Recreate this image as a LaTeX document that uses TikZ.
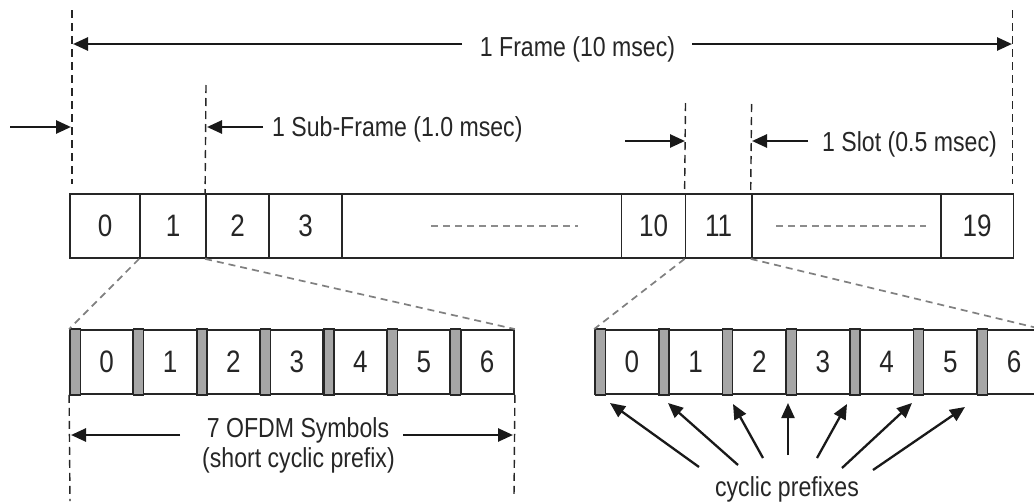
\documentclass[tikz,border=0pt]{standalone}
\usepackage{fontspec}
\setmainfont{Liberation Sans}[FakeStretch=0.84]
\usetikzlibrary{arrows.meta}
\begin{document}
\begin{tikzpicture}[x=1pt,y=-1pt,
  cell/.style={draw=black!85, line width=1.8pt, inner sep=0pt, minimum height=64pt, text=black!85, font=\fontsize{31}{31}\selectfont},
  sym/.style={cell},
  cpbar/.style={draw=black!85, fill=black!35, line width=1.4pt, minimum width=10pt, minimum height=66pt, inner sep=0pt},
  outline/.style={draw=black!85, line width=1.8pt, minimum height=64pt, inner sep=0pt},
  guide/.style={black!85, line width=1.4pt, dash pattern=on 8pt off 5pt},
  link/.style={black!50, line width=1.7pt, dash pattern=on 7pt off 5pt},
  filler/.style={black!45, line width=2.2pt, dash pattern=on 7pt off 5pt},
  arr/.style={black!90, line width=2.6pt, -{Triangle[length=15pt,width=13pt]}},
  cparr/.style={black!90, line width=2.3pt, -{Triangle[length=15pt,width=13pt]}},
  lbl/.style={text=black!85, font=\fontsize{27.5}{30}\selectfont, inner sep=0pt},
]
\clip (0,0) rectangle (1034,501);
\fill[white] (0,0) rectangle (1034,501);

% top row of sub-frames / slots
\foreach \l/\r/\n/\t in {70/140/t0/0, 140/206/t1/1, 206/269/t2/2, 269/342/t3/3, 342/621.5/tA/{}, 621.5/685.5/t10/10, 685.5/751.6/t11/11, 751.6/940.6/tB/{}, 940.6/1013.5/t19/19}
  \node[cell, minimum width={(\r-\l)*1pt}] (\n) at ({(\l+\r)/2},226) {\t};
\draw[filler] ([xshift=90pt]tA.west) -- ([xshift=-44pt]tA.east);
\draw[filler] ([xshift=25.4pt]tB.west) -- ([xshift=-16pt]tB.east);

% lower left slot (short CP)
\node[outline, minimum width=444pt] (ll) at (292,362) {};
\foreach \i in {0,...,6} {
  \node[sym, minimum width=53pt] (ls\i) at ({70+63.43*\i+36.6},362) {\i};
  \node[cpbar] (lc\i) at ({70+63.43*\i+5.2},362) {};
}

% lower right slot
\node[outline, minimum width=446pt] (rr) at (818,362) {};
\foreach \i in {0,...,6} {
  \node[sym, minimum width=53.7pt] (rs\i) at ({595+63.7*\i+36.85},362) {\i};
  \node[cpbar] (rc\i) at ({595+63.7*\i+5.2},362) {};
}

% zoom connectors
\draw[link] (t1.south west) -- (ll.north west);
\draw[link] (t2.south west) -- (ll.north east);
\draw[link] (t11.south west) -- (rr.north west);
\draw[link] (tB.south west) -- (rr.north east);

% guide lines
\coordinate (gFL) at (72,10); \coordinate (gFLb) at (72,184);
\coordinate (gFR) at (1012.5,10); \coordinate (gFRb) at (1012.5,184);
\coordinate (gSF) at (206,85);
\coordinate (gS1) at (685.5,103);
\coordinate (gS2) at (751.6,104);
\coordinate (gOL) at (70,501);
\coordinate (gOR) at (514,497);
\draw[guide] (gFL) -- (gFLb);
\draw[guide] (gFR) -- (gFRb);
\draw[guide] (gSF) -- (t2.north west);
\draw[guide] (gS1) -- (t11.north west);
\draw[guide] (gS2) -- (tB.north west);
\draw[guide] (ll.south west) -- (gOL);
\draw[guide] (ll.south east) -- (gOR);

% labels
\node[lbl, anchor=base] (fr) at (577.5,56) {1 Frame (10 msec)};
\node[lbl, anchor=base west] (sf) at (272,136) {1 Sub-Frame (1.0 msec)};
\node[lbl, anchor=base west] (sl) at (822,151) {1 Slot (0.5 msec)};
\node[lbl, anchor=base] (of1) at (298,437) {7 OFDM Symbols};
\node[lbl, anchor=base] (of2) at (298.5,467) {(short cyclic prefix)};
\node[lbl, anchor=base] (cpl) at (787,496) {cyclic prefixes};

% dimension arrows
\coordinate (aF1) at (462,44); \coordinate (aF1t) at (73,44);
\coordinate (aF2) at (692,44); \coordinate (aF2t) at (1012,44);
\coordinate (aI) at (10,127); \coordinate (aIt) at (71,127);
\coordinate (aS) at (263,127); \coordinate (aSt) at (207,127);
\coordinate (aL1) at (625,141); \coordinate (aL1t) at (685,141);
\coordinate (aL2) at (808,141); \coordinate (aL2t) at (752,141);
\coordinate (aO1) at (180,435); \coordinate (aO1t) at (71,435);
\coordinate (aO2) at (403,435); \coordinate (aO2t) at (513,435);
\draw[arr] (aF1) -- (aF1t);
\draw[arr] (aF2) -- (aF2t);
\draw[arr] (aI) -- (aIt);
\draw[arr] (aS) -- (aSt);
\draw[arr] (aL1) -- (aL1t);
\draw[arr] (aL2) -- (aL2t);
\draw[arr] (aO1) -- (aO1t);
\draw[arr] (aO2) -- (aO2t);

% cyclic prefix pointers
\foreach \sx/\sy/\ex/\ey [count=\k] in {699/467/610/403, 738/465/668/403, 763/458/733/404, 788/455/788/403, 817/458/847/404, 842/468/912/403, 873/470/965/407} {
  \coordinate (cs\k) at (\sx,\sy);
  \coordinate (ce\k) at (\ex,\ey);
  \draw[cparr] (cs\k) -- (ce\k);
}
\end{tikzpicture}
\end{document}
